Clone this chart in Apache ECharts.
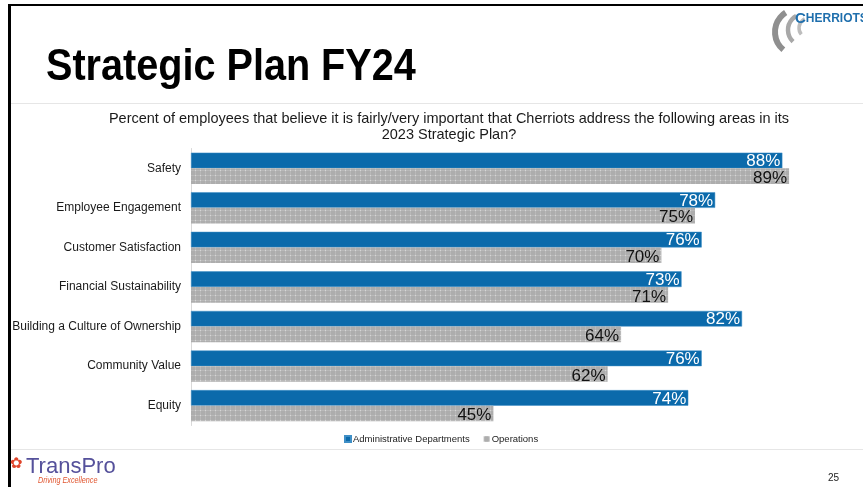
<!DOCTYPE html>
<html>
<head>
<meta charset="utf-8">
<script src="https://cdn.jsdelivr.net/npm/echarts@6/dist/echarts.min.js"></script>
<style>
  html, body { margin: 0; padding: 0; background: #fff; }
  #chart { width: 863px; height: 487px; }
</style>
</head>
<body>
<div id="chart"></div>
<script>
// Survey areas, top to bottom
const categories = [
  'Safety',
  'Employee Engagement',
  'Customer Satisfaction',
  'Financial Sustainability',
  'Building a Culture of Ownership',
  'Community Value',
  'Equity'
];
// Percent rating each area fairly/very important
const adminValues = [88, 78, 76, 73, 82, 76, 74];
const operationsValues = [89, 75, 70, 71, 64, 62, 45];
const seriesNames = ['Administrative Departments', 'Operations'];

// Fine dotted texture for the Operations bars
function makeTexture() {
  const c = document.createElement('canvas');
  c.width = 5; c.height = 5;
  const g = c.getContext('2d');
  g.fillStyle = '#adadad';
  g.fillRect(0, 0, 5, 5);
  g.fillStyle = '#b9b9b9';
  g.fillRect(0, 0, 5, 1);
  g.fillRect(0, 0, 1, 5);
  g.fillStyle = '#d6d6d6';
  g.fillRect(0, 0, 1, 1);
  return c;
}
const texture = makeTexture();

const chart = echarts.init(document.getElementById('chart'), null, { renderer: 'canvas' });

const labelFont = 'Liberation Sans, Arial, sans-serif';

chart.setOption({
  animation: false,
  backgroundColor: '#ffffff',
  title: {
    text: 'Percent of employees that believe it is fairly/very important that Cherriots address the following areas in its\n2023 Strategic Plan?',
    left: 444,
    top: 106,
    textAlign: 'center',
    textStyle: {
      fontFamily: labelFont,
      fontSize: 14.5,
      fontWeight: 'normal',
      color: '#1a1a1a',
      lineHeight: 16,
      align: 'center'
    }
  },
  legend: {
    data: seriesNames,
    left: 339,
    top: 429,
    icon: 'rect',
    itemWidth: 6,
    itemHeight: 6,
    itemGap: 14,
    textStyle: { fontFamily: labelFont, fontSize: 9.5, color: '#222', padding: [0, 0, 0, -3] }
  },
  grid: { left: 191, top: 148.5, width: 674, height: 277, containLabel: false },
  xAxis: {
    type: 'value',
    min: 0,
    max: 100,
    show: false
  },
  yAxis: {
    type: 'category',
    data: categories,
    inverse: true,
    axisLine: { show: true, lineStyle: { color: '#d9d9d9', width: 1 } },
    axisTick: { show: false },
    axisLabel: {
      fontFamily: labelFont,
      fontSize: 12,
      color: '#1a1a1a',
      margin: 10
    }
  },
  series: [
    {
      name: seriesNames[0],
      type: 'bar',
      data: adminValues,
      barGap: '0%',
      barCategoryGap: '21%',
      itemStyle: { color: '#0b6aab', borderColor: '#3f8fc6', borderWidth: 0.5 },
      label: {
        show: true,
        position: 'insideRight',
        distance: 2,
        formatter: '{c}%',
        fontFamily: labelFont,
        fontSize: 17,
        color: '#ffffff',
        offset: [0, 1]
      }
    },
    {
      name: seriesNames[1],
      type: 'bar',
      data: operationsValues,
      itemStyle: { color: { image: texture, repeat: 'repeat' } },
      label: {
        show: true,
        position: 'insideRight',
        distance: 2,
        formatter: '{c}%',
        fontFamily: labelFont,
        fontSize: 17,
        color: '#111111',
        offset: [0, 2]
      }
    }
  ],
  graphic: [
    // slide frame edges
    { type: 'rect', shape: { x: 8, y: 4, width: 3, height: 483 }, style: { fill: '#000' }, silent: true },
    { type: 'rect', shape: { x: 8, y: 4, width: 855, height: 2 }, style: { fill: '#000' }, silent: true },
    // header and footer rules
    { type: 'line', shape: { x1: 11, y1: 103.5, x2: 863, y2: 103.5 }, style: { stroke: '#e6e6e6', lineWidth: 1 }, silent: true },
    { type: 'line', shape: { x1: 11, y1: 449.5, x2: 863, y2: 449.5 }, style: { stroke: '#e6e6e6', lineWidth: 1 }, silent: true },
    // slide heading
    {
      type: 'text', x: 46, y: 46, scaleX: 0.9,
      style: { text: 'Strategic Plan FY24', font: 'bold 44px "Liberation Sans", Arial, sans-serif', fill: '#000' }
    },
    // Cherriots mark: three curved swooshes and the wordmark
    { type: 'arc', shape: { cx: 798, cy: 32, r: 23, startAngle: Math.PI * 0.72, endAngle: Math.PI * 1.32 }, style: { stroke: '#8f8f8f', lineWidth: 6, fill: null }, silent: true },
    { type: 'arc', shape: { cx: 804, cy: 30, r: 16, startAngle: Math.PI * 0.74, endAngle: Math.PI * 1.34 }, style: { stroke: '#a8a8a8', lineWidth: 4.5, fill: null }, silent: true },
    { type: 'arc', shape: { cx: 809, cy: 28, r: 10, startAngle: Math.PI * 0.78, endAngle: Math.PI * 1.36 }, style: { stroke: '#bdbdbd', lineWidth: 3.5, fill: null }, silent: true },
    {
      type: 'text', x: 795, y: 11,
      style: {
        text: '{c|C}{r|HERRIOTS}',
        rich: {
          c: { font: 'bold 15px "Liberation Sans", Arial, sans-serif', fill: '#1f6fad' },
          r: { font: 'bold 12px "Liberation Sans", Arial, sans-serif', fill: '#1f6fad' }
        }
      }
    },
    // TransPro mark
    { type: 'text', x: 10, y: 457, style: { text: '✿', font: '15px "DejaVu Sans", sans-serif', fill: '#e0452b' } },
    { type: 'text', x: 26, y: 456, style: { text: 'TransPro', font: '22px "Liberation Sans", Arial, sans-serif', fill: '#55519b' } },
    { type: 'text', x: 38, y: 476, scaleX: 0.85, style: { text: 'Driving Excellence', font: 'italic 8.5px "Liberation Sans", Arial, sans-serif', fill: '#e0552f' } },
    // page number
    { type: 'text', x: 828, y: 473, style: { text: '25', font: '10px "Liberation Sans", Arial, sans-serif', fill: '#222' } }
  ]
});
</script>
</body>
</html>
